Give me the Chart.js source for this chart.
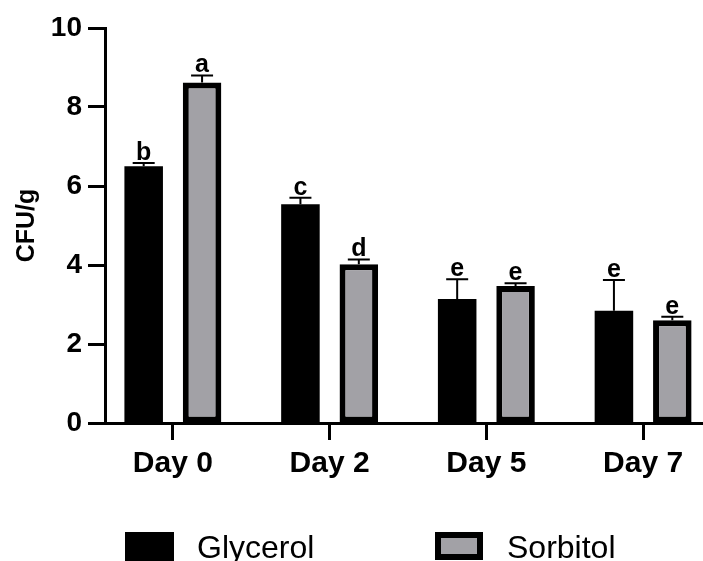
<!DOCTYPE html>
<html>
<head>
<meta charset="utf-8">
<script src="https://cdn.jsdelivr.net/npm/chart.js@4.4.1/dist/chart.umd.min.js"></script>
<style>
  html, body { margin: 0; padding: 0; background: #fff; overflow: hidden; }
  canvas { display: block; }
</style>
</head>
<body>
<canvas id="cfuChart" width="703" height="561"></canvas>
<script>
const days = ['Day 0', 'Day 2', 'Day 5', 'Day 7'];
const glycerol = [6.5, 5.54, 3.14, 2.84];
const glycerolErr = [0.08, 0.16, 0.5, 0.78];
const sorbitol = [8.62, 4.02, 3.47, 2.6];
const sorbitolErr = [0.18, 0.12, 0.07, 0.09];
const glycerolLetters = ['b', 'c', 'e', 'e'];
const sorbitolLetters = ['a', 'd', 'e', 'e'];
const yTicks = [0, 2, 4, 6, 8, 10];

const FONT = '"Liberation Sans", Arial, sans-serif';
const GREY = '#a2a1a6';

const toPoints = (vals) => vals.map((v, i) => ({ x: i, y: v }));

// error bars (upper only) + significance letters
const errorBars = {
    id: 'errorBars',
    afterDatasetsDraw(chart) {
        const ctx = chart.ctx;
        const yScale = chart.scales.y;
        const errs = [glycerolErr, sorbitolErr];
        const letters = [glycerolLetters, sorbitolLetters];
        chart.data.datasets.forEach((ds, d) => {
            const meta = chart.getDatasetMeta(d);
            meta.data.forEach((bar, i) => {
                const top = yScale.getPixelForValue(ds.data[i].y + errs[d][i]);
                ctx.save();
                ctx.strokeStyle = '#000';
                ctx.lineWidth = 2;
                ctx.beginPath();
                ctx.moveTo(bar.x, bar.y);
                ctx.lineTo(bar.x, top);
                ctx.moveTo(bar.x - 11, top);
                ctx.lineTo(bar.x + 11, top);
                ctx.stroke();
                ctx.fillStyle = '#000';
                ctx.font = 'bold 25px ' + FONT;
                ctx.textAlign = 'center';
                ctx.textBaseline = 'alphabetic';
                ctx.fillText(letters[d][i], bar.x, top - 3);
                ctx.restore();
            });
        });
    },
};

// legend drawn under the axis
const bottomLegend = {
    id: 'bottomLegend',
    afterDraw(chart) {
        const ctx = chart.ctx;
        ctx.save();
        ctx.fillStyle = '#000';
        ctx.fillRect(125, 532, 49, 29);
        ctx.fillStyle = GREY;
        ctx.fillRect(435, 532, 48, 28);
        ctx.strokeStyle = '#000';
        ctx.lineWidth = 6;
        ctx.strokeRect(438, 535, 42, 22);
        ctx.fillStyle = '#000';
        ctx.font = '32px ' + FONT;
        ctx.textBaseline = 'alphabetic';
        ctx.textAlign = 'left';
        ctx.fillText('Glycerol', 197, 558);
        ctx.fillText('Sorbitol', 507, 558);
        ctx.restore();
    },
};

const ctx = document.getElementById('cfuChart').getContext('2d');
const cfuChart = new Chart(ctx, {
    type: 'bar',
    data: {
        datasets: [
            {
                label: 'Glycerol',
                data: toPoints(glycerol),
                backgroundColor: '#000',
                borderColor: '#000',
                borderWidth: 0,
                categoryPercentage: 0.745,
                barPercentage: 0.66,
            },
            {
                label: 'Sorbitol',
                data: toPoints(sorbitol),
                backgroundColor: GREY,
                borderColor: '#000',
                borderWidth: 6,
                borderSkipped: false,
                categoryPercentage: 0.745,
                barPercentage: 0.66,
            },
        ],
    },
    options: {
        responsive: false,
        animation: false,
        layout: { padding: { top: 28, right: 0, bottom: 0, left: 0 } },
        plugins: {
            legend: { display: false },
            tooltip: { enabled: false },
        },
        scales: {
            x: {
                type: 'linear',
                offset: false,
                min: -0.433,
                max: 3.382,
                afterBuildTicks: (scale) => {
                    scale.ticks = days.map((_, i) => ({ value: i }));
                },
                afterFit: (scale) => { scale.height = 138; },
                ticks: {
                    callback: (v) => days[v],
                    color: '#000',
                    font: { family: FONT, size: 30, weight: 'bold' },
                    padding: 6,
                    maxRotation: 0,
                },
                grid: {
                    display: true,
                    offset: false,
                    drawOnChartArea: false,
                    tickLength: 17,
                    tickWidth: 3,
                    tickColor: '#000',
                },
                border: { display: true, color: '#000', width: 3 },
            },
            y: {
                min: 0,
                max: 10,
                afterBuildTicks: (scale) => {
                    scale.ticks = yTicks.map((v) => ({ value: v }));
                },
                afterFit: (scale) => { scale.width = 105; },
                ticks: {
                    color: '#000',
                    font: { family: FONT, size: 28, weight: 'bold' },
                    padding: 6,
                },
                grid: {
                    display: true,
                    drawOnChartArea: false,
                    tickLength: 17,
                    tickWidth: 3,
                    tickColor: '#000',
                },
                border: { display: true, color: '#000', width: 3 },
                title: {
                    display: true,
                    text: 'CFU/g',
                    color: '#000',
                    font: { family: FONT, size: 25, weight: 'bold' },
                    padding: { top: 12, bottom: 0 },
                },
            },
        },
    },
    plugins: [errorBars, bottomLegend],
});
</script>
</body>
</html>
